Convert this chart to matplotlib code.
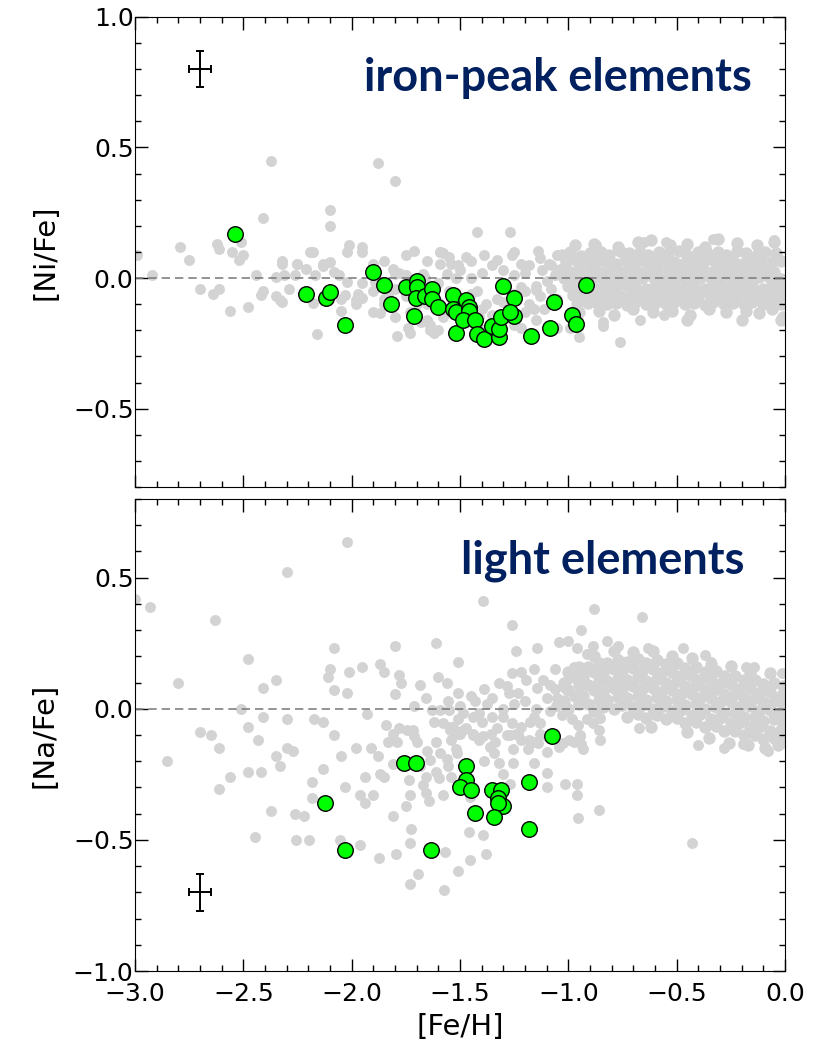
"""Two-panel abundance plot: [Ni/Fe] and [Na/Fe] vs [Fe/H]."""

import matplotlib
matplotlib.use("Agg")
import matplotlib.pyplot as plt
from matplotlib.ticker import MultipleLocator

# --- green sample, [Ni/Fe] ---
ni_x = [-2.54, -2.21, -2.12, -2.10, -2.03, -1.90, -1.85, -1.82, -1.75, -1.70,
        -1.70, -1.705, -1.66, -1.63, -1.63, -1.60, -1.71, -1.53, -1.52, -1.53,
        -1.52, -1.47, -1.46, -1.46, -1.485, -1.43, -1.42, -1.39, -1.35, -1.32,
        -1.32, -1.31, -1.30, -1.25, -1.25, -1.27, -1.17, -1.085, -1.065, -0.985,
        -0.965, -0.92]
ni_y = [0.17, -0.06, -0.075, -0.055, -0.18, 0.025, -0.025, -0.10, -0.035, -0.01,
        -0.035, -0.075, -0.07, -0.04, -0.08, -0.11, -0.145, -0.065, -0.21, -0.12,
        -0.13, -0.085, -0.11, -0.125, -0.16, -0.16, -0.215, -0.235, -0.185, -0.225,
        -0.195, -0.15, -0.03, -0.075, -0.145, -0.13, -0.22, -0.19, -0.09, -0.14,
        -0.175, -0.025]

# --- green sample, [Na/Fe] ---
na_x = [-1.074, -1.757, -1.703, -1.474, -1.474, -1.500, -1.447, -2.123, -1.351, -1.312,
        -1.323, -1.303, -1.323, -1.182, -1.431, -1.345, -1.182, -2.031, -1.634]
na_y = [-0.102, -0.207, -0.207, -0.218, -0.271, -0.299, -0.309, -0.360, -0.309, -0.309,
        -0.341, -0.370, -0.360, -0.280, -0.399, -0.411, -0.459, -0.538, -0.538]

# --- grey comparison stars, [Ni/Fe], metal-poor part ---
ni_halo_x = [
    -2.99, -2.92, -2.79, -2.75, -2.70, -2.64, -2.61, -2.62, -2.61, -2.55,
    -2.51, -2.50, -2.52, -2.56, -2.48, -2.37, -2.41, -2.44, -2.41, -2.42,
    -2.35, -2.35, -2.32, -2.32, -2.31, -2.29, -2.26, -2.25, -2.21, -2.19,
    -2.17, -2.18, -2.13, -2.10, -2.10, -2.10, -2.08, -2.06, -2.03, -2.02,
    -2.05, -2.16, -2.01, -1.95, -1.95, -1.88, -1.80, -1.97, -1.95, -1.90,
    -1.85, -1.81, -1.80, -1.71, -1.65, -1.59, -1.55, -1.59, -1.54, -1.79,
    -1.73, -1.62, -1.64, -1.73, -1.85, -1.83, -1.89, -1.78, -1.75, -1.67,
    -1.66, -1.56, -1.52, -1.56, -1.45, -1.39, -1.42, -1.27, -1.59, -1.25,
    -1.14, -1.05, -1.22, -0.84, -0.67, -0.76, -0.56, -0.95, -0.05, -0.33,
    -0.65, -0.55, -0.87, -2.32, -2.25, -2.18, -2.13, -2.02, -1.90, -1.75,
    -1.47, -2.33, -1.98, -1.87, -1.58, -1.51, -1.33, -1.26, -1.18, -1.13,
    -1.09, -1.01, -1.65, -1.64, -1.41, -1.22, -1.16, -1.22, -1.15, -1.05,
    -0.99, -0.84, -1.30, -1.25, -1.20, -1.12, -1.08, -1.06, -1.10, -1.15,
    -1.20, -1.13, -1.08, -1.05, -1.18, -1.11, -1.35, -1.40, -1.45, -1.50,
    -1.42, -1.38, -1.33, -1.28, -1.48, -1.55, -1.60, -1.65, -1.58, -1.45,
    -1.25, -1.40, -1.95, -1.90, -1.85, -1.80, -1.75, -1.70, -1.65, -1.60,
    -1.55, -1.50, -1.45, -1.40, -1.35, -1.30, -1.25, -1.20, -1.15, -1.80,
    -1.74, -1.68, -1.60, -1.98, -2.05,
]
ni_halo_y = [
    0.09, 0.01, 0.12, 0.07, -0.04, -0.06, -0.04, 0.13, 0.11, 0.10,
    0.14, 0.09, 0.07, -0.125, -0.11, 0.45, 0.23, 0.01, -0.05, -0.065,
    0.005, -0.07, -0.09, 0.065, 0.01, -0.04, 0.01, 0.055, 0.035, 0.10,
    0.01, -0.095, 0.045, 0.06, 0.26, 0.20, 0.025, 0.01, -0.065, -0.015,
    -0.125, -0.215, 0.125, 0.12, 0.10, 0.44, 0.37, -0.06, -0.075, -0.13,
    0.065, 0.035, 0.015, 0.105, 0.065, 0.10, 0.08, 0.055, 0.055, -0.22,
    -0.21, -0.21, -0.18, -0.13, -0.10, -0.06, -0.015, 0.02, 0.01, 0.015,
    0.0, 0.015, 0.0, -0.12, 0.065, 0.09, 0.175, 0.175, 0.10, 0.10,
    0.105, 0.09, 0.055, -0.185, -0.16, -0.245, -0.14, -0.225, 0.145, 0.15,
    0.14, 0.14, 0.125, 0.055, 0.055, 0.10, 0.055, 0.10, 0.055, 0.09,
    0.08, -0.085, -0.085, -0.135, 0.095, 0.05, 0.07, 0.09, 0.05, 0.075,
    0.055, 0.06, -0.16, -0.20, -0.15, -0.19, -0.12, -0.035, -0.045, -0.19,
    -0.19, -0.17, 0.03, 0.01, 0.02, 0.03, 0.05, 0.01, -0.01, -0.03,
    -0.05, -0.07, -0.04, -0.08, -0.10, -0.12, 0.05, 0.02, 0.0, 0.03,
    -0.05, -0.10, -0.08, -0.12, -0.12, -0.05, -0.02, -0.10, -0.15, -0.17,
    -0.18, -0.20, -0.02, -0.05, -0.08, -0.04, -0.07, -0.10, -0.06, -0.09,
    -0.12, -0.08, -0.06, -0.12, -0.14, -0.09, -0.06, -0.13, -0.16, -0.15,
    -0.19, -0.17, -0.20, -0.10, -0.08,
]

# --- grey comparison stars, [Ni/Fe], dense disc cloud (one line per band) ---
ni_disk_x = [
    -0.97, -0.88, -0.77, -0.68, -0.62, -0.53, -0.45, -0.37, -0.31, -0.22, -0.13, -0.05,
    -1.03, -0.99, -0.94, -0.90, -0.85, -0.81, -0.76, -0.72, -0.67, -0.63, -0.58, -0.54,
    -0.49, -0.45, -0.40, -0.36, -0.31, -0.27, -0.22, -0.18, -0.13, -0.09, -0.04,
    -1.01, -0.96, -0.92, -0.87, -0.83, -0.78, -0.74, -0.69, -0.65, -0.60, -0.56, -0.51,
    -0.47, -0.42, -0.38, -0.33, -0.29, -0.24, -0.20, -0.15, -0.11, -0.06, -0.02,
    -1.04, -0.99, -0.95, -0.90, -0.86, -0.81, -0.77, -0.72, -0.68, -0.63, -0.59, -0.54,
    -0.50, -0.45, -0.41, -0.36, -0.32, -0.27, -0.23, -0.18, -0.14, -0.09, -0.05,
    -1.02, -0.97, -0.93, -0.88, -0.84, -0.79, -0.75, -0.70, -0.66, -0.61, -0.57, -0.52,
    -0.48, -0.43, -0.39, -0.34, -0.30, -0.25, -0.21, -0.16, -0.12, -0.07, -0.02,
    -1.00, -0.96, -0.91, -0.87, -0.82, -0.78, -0.73, -0.69, -0.64, -0.60, -0.55, -0.51,
    -0.46, -0.42, -0.37, -0.33, -0.28, -0.24, -0.19, -0.15, -0.10, -0.06, -0.01,
    -0.98, -0.94, -0.89, -0.85, -0.80, -0.76, -0.71, -0.67, -0.62, -0.58, -0.53, -0.49,
    -0.44, -0.40, -0.35, -0.31, -0.26, -0.22, -0.17, -0.13, -0.08, -0.04, -0.01,
    -0.96, -0.91, -0.87, -0.82, -0.78, -0.73, -0.69, -0.64, -0.60, -0.55, -0.51,
    -0.46, -0.42, -0.37, -0.33, -0.28, -0.24, -0.19, -0.15, -0.10, -0.06, -0.02,
    -0.95, -0.86, -0.79, -0.70, -0.61, -0.52, -0.44, -0.35, -0.27, -0.18, -0.12, -0.06, -0.01,
    -0.02, -0.20, -0.45,
]
ni_disk_y = [
    0.125, 0.13, 0.12, 0.14, 0.145, 0.125, 0.13, 0.12, 0.15, 0.135, 0.125, 0.14,
    0.09, 0.10, 0.085, 0.095, 0.10, 0.09, 0.105, 0.095, 0.10, 0.09, 0.10, 0.095,
    0.105, 0.09, 0.10, 0.095, 0.10, 0.09, 0.105, 0.095, 0.09, 0.10, 0.095,
    0.06, 0.065, 0.07, 0.06, 0.065, 0.055, 0.07, 0.06, 0.065, 0.06, 0.07, 0.06,
    0.055, 0.065, 0.06, 0.07, 0.06, 0.065, 0.055, 0.06, 0.07, 0.06, 0.065,
    0.03, 0.025, 0.035, 0.03, 0.025, 0.035, 0.03, 0.035, 0.025, 0.03, 0.035, 0.03,
    0.025, 0.035, 0.03, 0.025, 0.035, 0.03, 0.03, 0.025, 0.035, 0.03, 0.025,
    0.0, -0.005, 0.005, 0.0, -0.005, 0.0, 0.005, -0.005, 0.0, 0.005, -0.005, 0.0,
    0.005, -0.005, 0.0, 0.0, -0.005, 0.005, 0.0, -0.005, 0.005, 0.0, -0.005,
    -0.03, -0.035, -0.03, -0.04, -0.03, -0.035, -0.03, -0.035, -0.04, -0.03, -0.035, -0.03,
    -0.035, -0.03, -0.04, -0.03, -0.035, -0.03, -0.035, -0.03, -0.04, -0.03, -0.035,
    -0.065, -0.06, -0.07, -0.065, -0.06, -0.07, -0.065, -0.07, -0.06, -0.065, -0.07, -0.06,
    -0.065, -0.07, -0.06, -0.065, -0.07, -0.065, -0.06, -0.07, -0.065, -0.06, -0.07,
    -0.10, -0.095, -0.09, -0.10, -0.095, -0.105, -0.09, -0.10, -0.095, -0.10, -0.09,
    -0.10, -0.095, -0.105, -0.09, -0.10, -0.095, -0.10, -0.09, -0.10, -0.095, -0.10,
    -0.13, -0.125, -0.14, -0.12, -0.13, -0.125, -0.14, -0.12, -0.13, -0.125, -0.135, -0.12, -0.15,
    -0.16, -0.16, -0.16,
]

# --- grey comparison stars, [Na/Fe], metal-poor part ---
na_halo_x = [
    -2.02, -2.30, -3.00, -2.93, -2.63, -2.80, -2.48, -2.35, -2.41, -2.08,
    -2.10, -2.11, -2.08, -2.02, -2.01, -1.95, -1.80, -1.87, -1.85, -1.78,
    -1.77, -1.80, -1.61, -1.685, -1.60, -1.56, -1.51, -1.655, -1.555, -1.71,
    -1.63, -1.59, -1.55, -1.51, -2.51, -2.41, -2.30, -2.175, -2.13, -1.93,
    -2.48, -2.70, -2.65, -2.61, -2.43, -2.08, -2.85, -2.35, -2.33, -2.30,
    -2.27, -2.56, -2.48, -2.42, -2.61, -2.05, -2.13, -2.185, -2.185, -1.98,
    -1.91, -1.88, -2.03, -1.94, -1.96, -1.94, -1.90, -1.87, -1.85, -1.81,
    -1.67, -1.73, -1.75, -1.645, -1.58, -1.61, -1.64, -1.555, -1.54, -1.81,
    -2.37, -2.26, -2.22, -1.84, -1.81, -1.83, -1.79, -1.78, -1.745, -1.715,
    -1.71, -1.70, -1.65, -1.62, -1.61, -1.58, -1.545, -1.59, -1.54, -1.52,
    -1.51, -2.445, -2.255, -2.195, -2.055, -1.96, -1.875, -1.795, -1.725, -1.73,
    -1.695, -1.73, -1.57, -1.575, -1.51, -1.46, -1.455, -1.395, -1.38, -1.735,
    -1.655, -1.515, -1.455, -1.30, -1.27, -1.255, -1.39, -1.345, -1.32, -1.255,
    -1.16, -1.185, -1.23, -1.16, -1.13, -1.10, -1.10, -1.10, -1.015, -0.96,
    -0.96, -0.955, -1.025, -0.995, -0.945, -0.93, -0.86, -1.655, -1.595, -1.56,
    -1.685, -1.545, -1.50, -1.47, -1.44, -1.395, -1.33, -1.27, -1.36, -0.43,
    -1.395, -0.88, -0.66, -1.26, -0.94, -1.045, -1.00, -0.82, -1.24, -1.145,
    -0.96, -0.915, -0.885, -0.77, -0.63, -0.47, -0.37, -0.34, -0.18, -0.145,
    -0.015, -1.16, -1.06, -0.975, -1.26, -1.22, -1.39, -1.285, -1.275, -1.23,
    -1.195, -1.145, -1.115, -1.085, -1.06, -1.015, -1.00, -1.43, -1.375, -1.30,
    -1.26, -1.22, -1.175, -1.16, -1.13, -1.085, -1.055, -1.03, -1.00, -0.985,
    -0.955, -0.915, -0.885, -0.855, -0.86, -0.945, -0.94, -0.855, -0.675, -0.195,
    -1.50, -1.485, -1.44, -1.41, -1.53, -1.515, -1.485, -1.44, -1.41, -1.355,
    -1.34, -1.285, -1.24, -1.22, -1.18, -1.14, -1.10, -1.045, -0.975, -1.45,
    -1.35, -1.32, -1.20, -1.15, -1.10, -1.05, -1.25, -1.40, -1.35, -1.30,
    -0.40, -0.28, -0.08,
]
na_halo_y = [
    0.635, 0.52, 0.42, 0.39, 0.34, 0.10, 0.19, 0.11, 0.08, 0.23,
    0.15, 0.12, 0.07, 0.06, 0.14, 0.16, 0.24, 0.17, 0.14, 0.13,
    0.10, 0.055, 0.25, 0.09, 0.12, 0.10, 0.18, 0.04, 0.03, 0.01,
    -0.005, -0.005, -0.005, 0.06, 0.0, -0.03, -0.04, -0.04, -0.05, -0.02,
    -0.07, -0.09, -0.10, -0.15, -0.12, -0.10, -0.20, -0.18, -0.22, -0.15,
    -0.16, -0.26, -0.24, -0.24, -0.305, -0.18, -0.23, -0.28, -0.34, -0.15,
    -0.15, -0.18, -0.30, -0.26, -0.33, -0.36, -0.33, -0.25, -0.26, -0.21,
    -0.29, -0.33, -0.37, -0.35, -0.33, -0.24, -0.195, -0.22, -0.26, -0.41,
    -0.39, -0.40, -0.41, -0.06, -0.095, -0.125, -0.125, -0.075, -0.08, -0.08,
    -0.105, -0.125, -0.16, -0.05, -0.125, -0.055, -0.08, -0.17, -0.12, -0.155,
    -0.04, -0.49, -0.50, -0.50, -0.50, -0.52, -0.57, -0.555, -0.46, -0.51,
    -0.63, -0.67, -0.545, -0.69, -0.62, -0.47, -0.575, -0.48, -0.555, -0.27,
    -0.32, -0.17, -0.335, -0.25, -0.285, -0.205, -0.20, -0.17, -0.205, -0.155,
    -0.205, -0.155, -0.095, -0.125, -0.095, -0.165, -0.245, -0.30, -0.285, -0.285,
    -0.33, -0.415, -0.13, -0.12, -0.10, -0.155, -0.385, -0.26, -0.265, -0.19,
    -0.22, -0.07, -0.095, -0.075, -0.10, -0.105, -0.075, -0.10, -0.145, -0.51,
    0.41, 0.38, 0.35, 0.32, 0.30, 0.255, 0.26, 0.26, 0.22, 0.23,
    0.23, 0.21, 0.24, 0.24, 0.23, 0.23, 0.205, 0.18, 0.16, 0.16,
    0.135, 0.15, 0.15, 0.16, 0.135, 0.14, 0.075, 0.085, 0.06, 0.06,
    0.11, 0.08, 0.11, 0.09, 0.075, 0.08, 0.115, 0.03, 0.02, -0.03,
    -0.055, -0.07, -0.05, -0.03, -0.055, -0.01, 0.01, -0.025, -0.005, -0.04,
    -0.06, -0.04, -0.055, -0.035, -0.08, -0.105, -0.135, -0.12, -0.075, -0.135,
    0.01, -0.015, -0.03, -0.015, -0.07, -0.095, -0.08, -0.095, -0.12, -0.095,
    -0.125, -0.10, -0.095, -0.12, -0.12, -0.13, -0.105, -0.145, -0.125, 0.05,
    0.04, 0.10, 0.03, 0.0, 0.04, 0.04, 0.02, -0.05, -0.03, 0.0,
    -0.14, -0.15, -0.16,
]

# --- grey comparison stars, [Na/Fe], dense disc cloud (one line per band) ---
na_disk_x = [
    -0.88, -0.79, -0.70, -0.61, -0.52, -0.43, -0.34, -0.25, -0.16, -0.07,
    -1.00, -0.95, -0.91, -0.86, -0.82, -0.77, -0.73, -0.68, -0.64, -0.59, -0.55, -0.50,
    -0.46, -0.41, -0.37, -0.32, -0.28, -0.23, -0.19, -0.14, -0.10, -0.05, -0.01,
    -1.02, -0.97, -0.93, -0.88, -0.84, -0.79, -0.75, -0.70, -0.66, -0.61, -0.57, -0.52,
    -0.48, -0.43, -0.39, -0.34, -0.30, -0.25, -0.21, -0.16, -0.12, -0.07, -0.02,
    -1.00, -0.95, -0.91, -0.86, -0.82, -0.77, -0.73, -0.68, -0.64, -0.59, -0.55, -0.50,
    -0.46, -0.41, -0.37, -0.32, -0.28, -0.23, -0.19, -0.14, -0.10, -0.05, -0.01,
    -1.02, -0.97, -0.93, -0.88, -0.84, -0.79, -0.75, -0.70, -0.66, -0.61, -0.57, -0.52,
    -0.48, -0.43, -0.39, -0.34, -0.30, -0.25, -0.21, -0.16, -0.12, -0.07, -0.02,
    -1.00, -0.95, -0.91, -0.86, -0.82, -0.77, -0.73, -0.68, -0.64, -0.59, -0.55, -0.50,
    -0.46, -0.41, -0.37, -0.32, -0.28, -0.23, -0.19, -0.14, -0.10, -0.05, -0.01,
    -0.88, -0.84, -0.79, -0.75, -0.70, -0.66, -0.61, -0.57, -0.52, -0.48,
    -0.43, -0.39, -0.34, -0.30, -0.25, -0.21, -0.16, -0.12, -0.07, -0.02,
    -0.73, -0.68, -0.64, -0.59, -0.55, -0.50, -0.46, -0.41, -0.37,
    -0.32, -0.28, -0.23, -0.19, -0.14, -0.10, -0.05, -0.01,
    -0.62, -0.45, -0.35, -0.26, -0.17, -0.09, -0.03,
]
na_disk_y = [
    0.20, 0.22, 0.215, 0.22, 0.20, 0.195, 0.17, 0.165, 0.14, 0.135,
    0.14, 0.16, 0.16, 0.175, 0.175, 0.185, 0.18, 0.19, 0.175, 0.185, 0.17, 0.175,
    0.155, 0.16, 0.14, 0.145, 0.125, 0.125, 0.11, 0.11, 0.095, 0.10, 0.085,
    0.10, 0.12, 0.12, 0.14, 0.135, 0.15, 0.145, 0.155, 0.145, 0.15, 0.135, 0.14,
    0.125, 0.125, 0.11, 0.11, 0.095, 0.095, 0.075, 0.08, 0.06, 0.065, 0.05,
    0.07, 0.09, 0.09, 0.105, 0.105, 0.115, 0.11, 0.12, 0.105, 0.115, 0.10, 0.105,
    0.085, 0.09, 0.07, 0.075, 0.055, 0.055, 0.04, 0.04, 0.025, 0.03, 0.015,
    0.03, 0.05, 0.05, 0.07, 0.065, 0.08, 0.075, 0.085, 0.075, 0.08, 0.065, 0.07,
    0.055, 0.055, 0.04, 0.04, 0.025, 0.025, 0.005, 0.01, -0.01, -0.005, -0.02,
    0.0, 0.02, 0.02, 0.035, 0.035, 0.045, 0.04, 0.05, 0.035, 0.045, 0.03, 0.035,
    0.015, 0.02, 0.0, 0.005, -0.015, -0.015, -0.03, -0.03, -0.045, -0.04, -0.055,
    -0.01, 0.005, 0.0, 0.015, 0.005, 0.015, 0.0, 0.005, -0.01, -0.005,
    -0.025, -0.02, -0.04, -0.035, -0.055, -0.055, -0.07, -0.07, -0.085, -0.08,
    -0.03, -0.02, -0.035, -0.025, -0.04, -0.035, -0.055, -0.05, -0.07,
    -0.065, -0.085, -0.085, -0.10, -0.10, -0.115, -0.11, -0.125,
    -0.07, -0.09, -0.11, -0.13, -0.14, -0.15, -0.14,
]

GREY = "#d3d3d3"
GREEN = "#00ff00"
NAVY = "#002060"

fig = plt.figure(figsize=(8.21, 10.45), dpi=100)
ax_top = fig.add_axes([0.1644, 0.534, 0.7917, 0.4498])
ax_bot = fig.add_axes([0.1644, 0.0708, 0.7917, 0.4517])

panels = [
    (ax_top, ni_halo_x, ni_halo_y, ni_disk_x, ni_disk_y, ni_x, ni_y,
     (-0.8, 1.0), (-2.70, 0.80), "iron-peak elements", 0.949, "[Ni/Fe]"),
    (ax_bot, na_halo_x, na_halo_y, na_disk_x, na_disk_y, na_x, na_y,
     (-1.0, 0.8), (-2.70, -0.70), "light elements", 0.938, "[Na/Fe]"),
]

for ax, hx, hy, dx, dy, sx, sy, ylim, err_xy, label, lx, ylab in panels:
    ax.scatter(hx, hy, s=62, color=GREY, linewidths=0, zorder=1)
    # the disc cloud is packed tightly, so its dots are drawn a touch larger
    ax.scatter(dx, dy, s=80, color=GREY, linewidths=0, zorder=1)
    ax.axhline(0.0, color="#808080", lw=1.2, ls=(0, (5, 3)), zorder=2)
    ax.scatter(sx, sy, s=125, color=GREEN, edgecolors="black",
               linewidths=1.0, zorder=3)
    ax.errorbar([err_xy[0]], [err_xy[1]], xerr=0.05, yerr=0.07, fmt="none",
                ecolor="black", elinewidth=1.4, capsize=3, capthick=1.4, zorder=4)
    ax.text(lx, 0.87, label, transform=ax.transAxes, ha="right", va="center",
            fontsize=32.5, fontweight="bold", color=NAVY, family="Lato")
    ax.set_xlim(-3.0, 0.0)
    ax.set_ylim(*ylim)
    ax.xaxis.set_major_locator(MultipleLocator(0.5))
    ax.xaxis.set_minor_locator(MultipleLocator(0.1))
    ax.yaxis.set_major_locator(MultipleLocator(0.5))
    ax.yaxis.set_minor_locator(MultipleLocator(0.1))
    ax.tick_params(which="both", direction="in", top=True, right=True,
                   labelsize=18, width=1.0)
    ax.tick_params(which="major", length=9)
    ax.tick_params(which="minor", length=4.5)
    ax.tick_params(axis="y", which="both", pad=1)
    ax.tick_params(axis="x", which="both", pad=8)
    ax.set_ylabel(ylab, fontsize=21, labelpad=10)

ax_top.tick_params(labelbottom=False)
ax_bot.set_xlabel("[Fe/H]", fontsize=21, labelpad=5)

fig.savefig("out.png", dpi=100)
